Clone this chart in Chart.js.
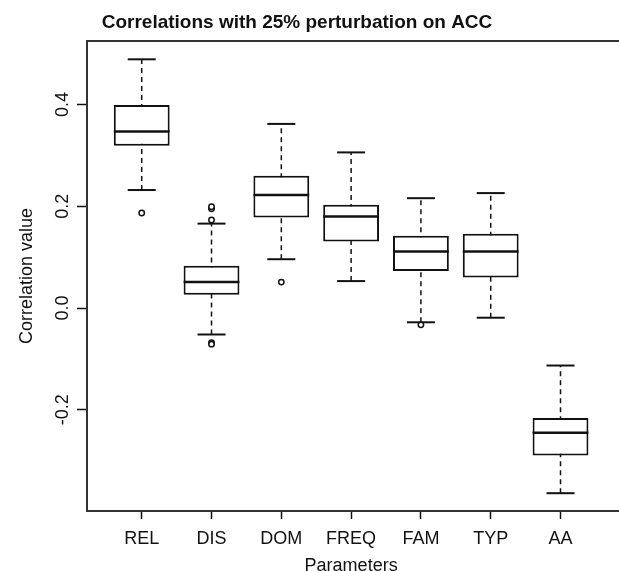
<!DOCTYPE html>
<html>
<head>
<meta charset="utf-8">
<script src="https://cdn.jsdelivr.net/npm/chart.js@4"></script>
<style>
  html, body { margin: 0; padding: 0; background: #fff; overflow: hidden; }
  #wrap { width: 619px; height: 571px; }
</style>
</head>
<body>
<div id="wrap"><canvas id="boxChart" width="619" height="571"></canvas></div>
<script>
// values
const categories = ["REL", "DIS", "DOM", "FREQ", "FAM", "TYP", "AA"];
const whiskerLow  = [0.232, -0.052, 0.096, 0.053, -0.028, -0.019, -0.364];
const q1          = [0.319,  0.026, 0.178, 0.131,  0.073,  0.060, -0.290];
const median      = [0.347,  0.051, 0.222, 0.180,  0.111,  0.111, -0.245];
const q3          = [0.399,  0.083, 0.260, 0.203,  0.142,  0.146, -0.216];
const whiskerHigh = [0.489,  0.166, 0.362, 0.306,  0.216,  0.226, -0.113];
const outliers = [
    [0.187],
    [0.173, 0.195, 0.199, -0.068, -0.071],
    [0.051],
    [],
    [-0.033],
    [],
    []
];
const yTicks = [-0.2, 0.0, 0.2, 0.4];
const yTickLabels = ["-0.2", "0.0", "0.2", "0.4"];

const titleText = "Correlations with 25% perturbation on ACC";
const xTitle = "Parameters";
const yTitle = "Correlation value";

const ink = "#111";
Chart.defaults.font.family = "'Liberation Sans', Arial, sans-serif";
Chart.defaults.color = ink;

// build the datasets from the arrays
const boxes = categories.map((c, i) => ({ x: i + 1, y: [q1[i], q3[i]] }));
const medians = categories.map((c, i) => ({ x: i + 1, y: median[i] }));
const caps = [];
const whiskers = [];
categories.forEach((c, i) => {
    caps.push({ x: i + 1, y: whiskerLow[i] }, { x: i + 1, y: whiskerHigh[i] });
    whiskers.push({ x: i + 1, y: whiskerLow[i] }, { x: i + 1, y: whiskerHigh[i] }, { x: i + 1, y: null });
});
const outlierPts = [];
outliers.forEach((list, i) => list.forEach(v => outlierPts.push({ x: i + 1, y: v })));

// frame, title, rotated y labels, axis titles (R style)
const rDecor = {
    id: "rDecor",
    afterDraw(chart) {
        const { ctx, chartArea: a, scales } = chart;
        ctx.save();
        ctx.strokeStyle = "#333";
        ctx.lineWidth = 2;
        ctx.strokeRect(a.left, a.top, a.right - a.left + 20, a.bottom - a.top);

        ctx.fillStyle = ink;
        ctx.font = "bold 19px 'Liberation Sans', Arial, sans-serif";
        ctx.textAlign = "center";
        ctx.textBaseline = "alphabetic";
        ctx.fillText(titleText, 297, 28);

        ctx.font = "18px 'Liberation Sans', Arial, sans-serif";
        ctx.fillText(xTitle, (scales.x.getPixelForValue(1) + scales.x.getPixelForValue(7)) / 2, 571);

        scales.y.ticks.forEach(t => {
            const y = scales.y.getPixelForValue(t.value);
            ctx.save();
            ctx.translate(68, y);
            ctx.rotate(-Math.PI / 2);
            ctx.fillText(yTickLabels[yTicks.indexOf(t.value)], 0, 0);
            ctx.restore();
        });

        ctx.save();
        ctx.translate(32, (a.top + a.bottom) / 2);
        ctx.rotate(-Math.PI / 2);
        ctx.fillText(yTitle, 0, 0);
        ctx.restore();
        ctx.restore();
    }
};

const ctx = document.getElementById("boxChart").getContext("2d");
new Chart(ctx, {
    type: "bar",
    data: {
        datasets: [
            {
                type: "line",
                data: whiskers,
                borderColor: ink,
                borderWidth: 1.5,
                borderDash: [5, 4],
                pointRadius: 0,
                spanGaps: false,
                order: 4
            },
            {
                type: "bar",
                data: boxes,
                backgroundColor: "#fff",
                borderColor: ink,
                borderWidth: 2,
                borderSkipped: false,
                barPercentage: 1,
                categoryPercentage: 0.8,
                order: 3
            },
            {
                type: "line",
                data: medians,
                showLine: false,
                pointStyle: "line",
                pointRadius: 27.9,
                pointBorderColor: ink,
                pointBorderWidth: 2.5,
                order: 2
            },
            {
                type: "line",
                data: caps,
                showLine: false,
                pointStyle: "line",
                pointRadius: 14,
                pointBorderColor: ink,
                pointBorderWidth: 2,
                order: 2
            },
            {
                type: "line",
                data: outlierPts,
                showLine: false,
                pointStyle: "circle",
                pointRadius: 2.7,
                pointBackgroundColor: "#fff",
                pointBorderColor: ink,
                pointBorderWidth: 1.5,
                order: 1
            }
        ]
    },
    options: {
        responsive: false,
        animation: false,
        layout: { autoPadding: false, padding: { top: 41, right: 0, left: 0, bottom: 0 } },
        plugins: { legend: { display: false }, tooltip: { enabled: false }, title: { display: false } },
        scales: {
            x: {
                type: "linear",
                offset: false,
                min: 0.216,
                max: 7.838,
                afterFit: s => { s.height = 60; s.paddingRight = 0; s.paddingLeft = 0; },
                afterBuildTicks: s => { s.ticks = categories.map((c, i) => ({ value: i + 1 })); },
                ticks: {
                    callback: v => categories[v - 1],
                    autoSkip: false,
                    maxRotation: 0,
                    padding: 9,
                    font: { size: 18 },
                    color: ink
                },
                grid: { offset: false, drawOnChartArea: false, drawTicks: true, tickLength: 8, tickColor: ink, tickWidth: 1.5 },
                border: { display: true, color: "#333", width: 2 }
            },
            y: {
                type: "linear",
                min: -0.399,
                max: 0.525,
                afterFit: s => { s.width = 87; },
                afterBuildTicks: s => { s.ticks = yTicks.map(v => ({ value: v })); },
                ticks: { display: false },
                grid: { drawOnChartArea: false, drawTicks: true, tickLength: 10, tickColor: ink, tickWidth: 1.5 },
                border: { display: true, color: "#333", width: 2 }
            }
        }
    },
    plugins: [rDecor]
});
</script>
</body>
</html>
